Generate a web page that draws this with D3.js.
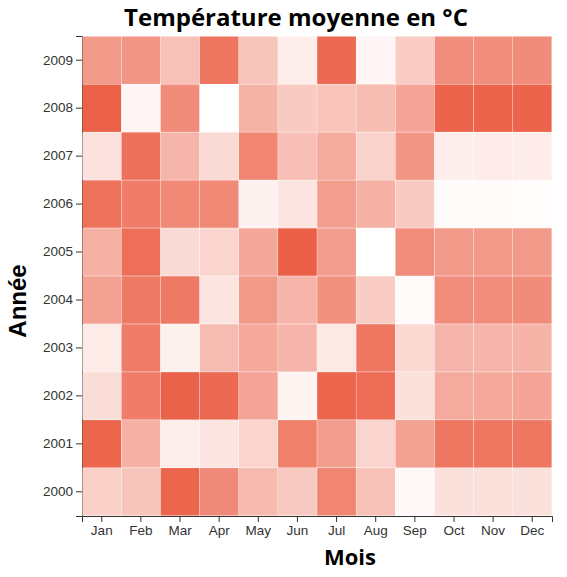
<!DOCTYPE html>
<html>
<head>
<meta charset="utf-8">
<script src="https://cdn.jsdelivr.net/npm/d3@7"></script>
<style>
  body { margin: 0; background: #fff; }
  .tick text { font-family: "Liberation Sans", Arial, sans-serif; font-size: 13.5px; fill: #333; }
  .title, .xlabel { font-family: "Open Sans", sans-serif; font-weight: bold; }
  .ylabel { font-family: "Liberation Sans", Arial, sans-serif; font-weight: bold; }
</style>
</head>
<body>
<svg width="567" height="577"></svg>
<script>
const months = ['Jan', 'Feb', 'Mar', 'Apr', 'May', 'Jun', 'Jul', 'Aug', 'Sep', 'Oct', 'Nov', 'Dec'];
const years = ['2000', '2001', '2002', '2003', '2004', '2005', '2006', '2007', '2008', '2009'];

// average temperature per month, one array per year
const t2000 = [10.8, 12.2, 24.2, 19.6, 13.6, 11.8, 20.2, 12.8, 5.8, 8.8, 8.8, 8.8];
const t2001 = [24.2, 14.8, 7.2, 8.2, 10.4, 20.8, 17.2, 10.2, 16.8, 22.0, 22.0, 22.0];
const t2002 = [9.2, 21.2, 24.6, 23.6, 16.4, 6.4, 24.2, 23.2, 8.8, 15.6, 15.8, 16.2];
const t2003 = [7.5, 21.2, 6.8, 13.4, 15.8, 14.2, 7.8, 22.0, 9.8, 14.2, 14.2, 14.4];
const t2004 = [16.8, 21.8, 21.8, 8.2, 17.6, 14.2, 18.6, 11.2, 5.5, 19.2, 19.2, 19.4];
const t2005 = [15.0, 23.0, 9.6, 10.2, 16.0, 25.0, 17.2, 5.0, 19.2, 17.6, 17.6, 17.6];
const t2006 = [22.6, 21.2, 19.8, 19.8, 6.6, 8.4, 17.0, 14.8, 11.6, 5.5, 5.5, 5.4];
const t2007 = [8.6, 22.8, 14.2, 9.6, 20.2, 13.0, 15.6, 10.6, 18.2, 7.2, 7.4, 7.4];
const t2008 = [24.8, 6.2, 19.4, 5.0, 14.6, 11.6, 12.4, 13.2, 16.2, 24.4, 24.4, 24.4];
const t2009 = [17.6, 18.2, 12.8, 22.2, 12.2, 7.2, 23.6, 6.2, 11.4, 19.2, 19.2, 19.4];

const temps = [t2000, t2001, t2002, t2003, t2004, t2005, t2006, t2007, t2008, t2009];

const data = [];
years.forEach((y, i) => {
  months.forEach((m, j) => {
    data.push({ year: y, month: m, value: temps[i][j] });
  });
});

const margin = { top: 36, right: 15, bottom: 61, left: 82 };
const width = 567 - margin.left - margin.right;
const height = 577 - margin.top - margin.bottom;

const svg = d3.select('svg');
const chart = svg.append('g')
  .attr('transform', `translate(${margin.left}, ${margin.top})`);

const x = d3.scaleBand()
  .range([0, width])
  .domain(months)
  .padding(0.01);

const y = d3.scaleBand()
  .range([height, 0])
  .domain(years)
  .padding(0.01);

const color = d3.scaleLinear()
  .domain(d3.extent(data, d => d.value))
  .range(['#ffffff', '#eb5f46']);

chart.append('g')
  .attr('transform', `translate(0, ${height})`)
  .call(d3.axisBottom(x));

chart.append('g')
  .call(d3.axisLeft(y));

chart.selectAll('.cell')
  .data(data)
  .enter()
  .append('rect')
  .attr('class', 'cell')
  .attr('x', d => x(d.month))
  .attr('y', d => y(d.year))
  .attr('width', x.bandwidth())
  .attr('height', y.bandwidth())
  .attr('fill', d => color(d.value));

svg.selectAll('.domain, .tick line').attr('stroke', '#333');

svg.append('text')
  .attr('class', 'title')
  .attr('x', 296)
  .attr('y', 26)
  .attr('text-anchor', 'middle')
  .style('font-size', '24px')
  .text('Température moyenne en °C');

svg.append('text')
  .attr('class', 'xlabel')
  .attr('x', 350)
  .attr('y', 565)
  .attr('text-anchor', 'middle')
  .style('font-size', '22px')
  .text('Mois');

svg.append('text')
  .attr('class', 'ylabel')
  .attr('transform', 'rotate(-90)')
  .attr('x', -301)
  .attr('y', 26)
  .attr('text-anchor', 'middle')
  .style('font-size', '24px')
  .text('Année');
</script>
</body>
</html>
